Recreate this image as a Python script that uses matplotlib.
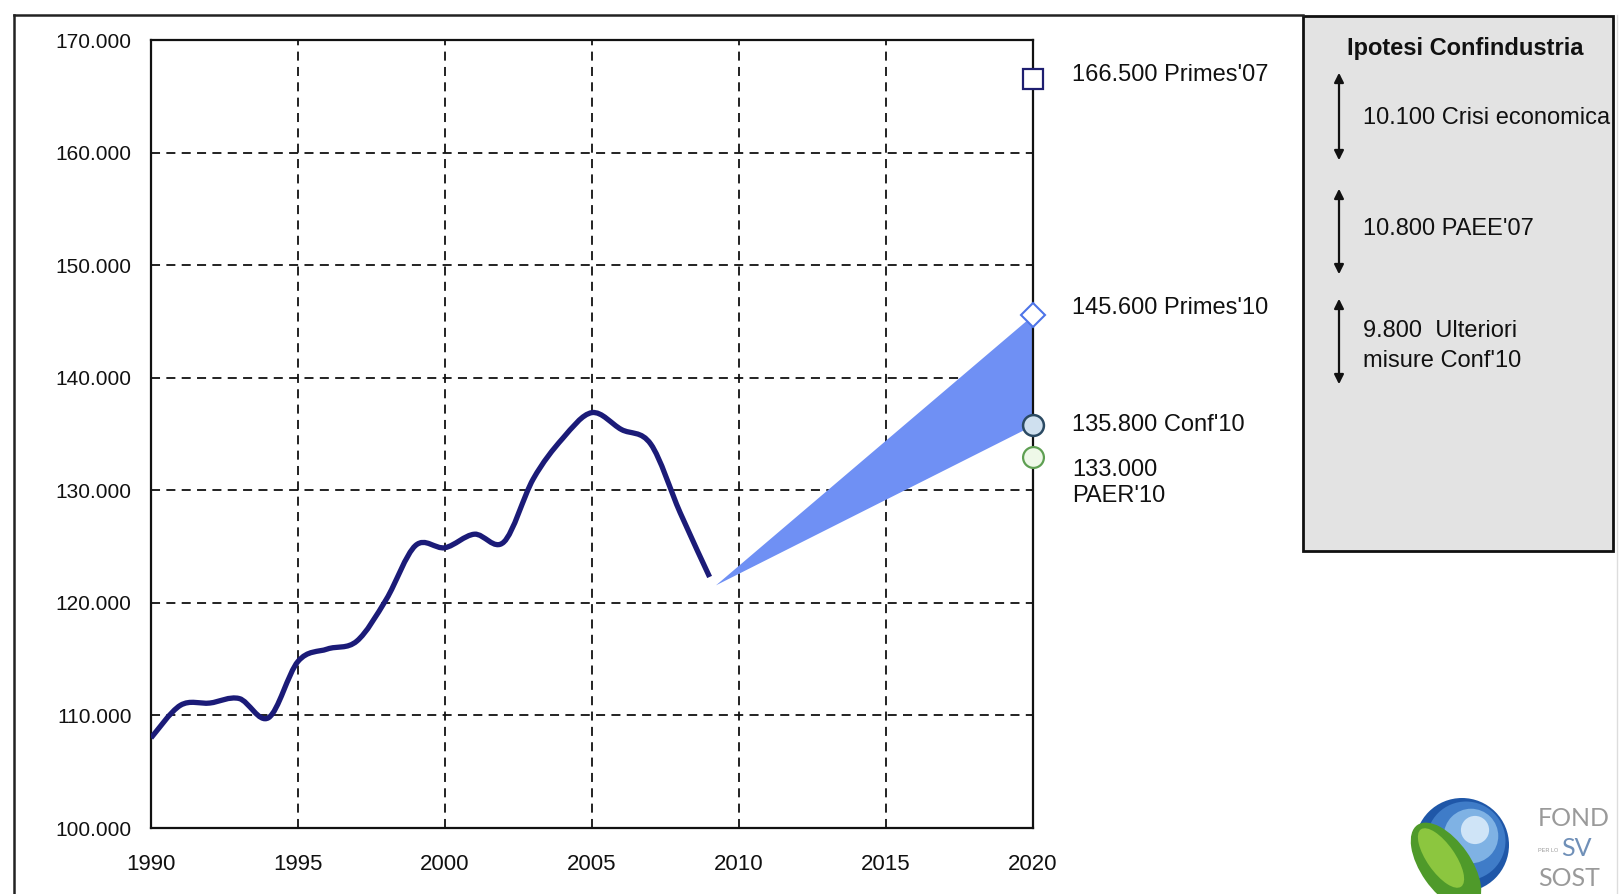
import matplotlib
matplotlib.use("Agg")
import matplotlib.pyplot as plt
from matplotlib.path import Path
from matplotlib.patches import PathPatch, Rectangle, Ellipse, Circle, FancyArrowPatch
from matplotlib.lines import Line2D
from matplotlib.ticker import FuncFormatter, FixedLocator

# ---- data ---------------------------------------------------------------
years = [1990, 1991, 1992, 1993, 1994, 1995, 1996, 1997, 1998, 1999,
         2000, 2001, 2002, 2003, 2004, 2005, 2006, 2007, 2008, 2009]
consumption = [108000, 110900, 111100, 111500, 109800, 114800, 115900, 116600,
               120300, 125100, 124900, 126100, 125400, 131000, 134600, 136900,
               135400, 134100, 128000, 122300]

# projection band towards 2020
band_years = [2009.2, 2020]
band_low = [121600, 135800]
band_high = [121600, 145600]

# 2020 scenarios
scenario_names = ["Primes'07", "Primes'10", "Conf'10", "PAER'10"]
scenario_values = [166500, 145600, 135800, 133000]
scenario_sep = [" ", " ", " ", "\n"]

# Confindustria hypotheses (gaps between scenarios)
gap_values = [10100, 10800, 9800]
gap_names = ["Crisi economica", "PAEE'07", "Ulteriori\nmisure Conf'10"]
gap_sep = [" ", " ", "  "]

x_ticks = [1990, 1995, 2000, 2005, 2010, 2015, 2020]
y_ticks = [100000, 110000, 120000, 130000, 140000, 150000, 160000, 170000]

# ---- figure -------------------------------------------------------------
W, H = 1619, 894
plt.rcParams["font.family"] = ["Liberation Sans", "DejaVu Sans"]
fig = plt.figure(figsize=(W / 100, H / 100), dpi=100, facecolor="white")


def fx(px):
    return px / W


def fy(py):
    return 1 - py / H


def it(v):
    return f"{int(round(v)):,}".replace(",", ".")


# page frame (left and top edges)
fig.add_artist(Line2D([fx(14), fx(14)], [fy(15), fy(900)], color="#222222", lw=1.8))
fig.add_artist(Line2D([fx(14), fx(1303)], [fy(15), fy(15)], color="#222222", lw=1.8))
fig.add_artist(Line2D([fx(1617), fx(1617)], [fy(15), fy(900)], color="#dddddd", lw=1.0))

ax = fig.add_axes([fx(151), fy(828), fx(1033 - 151), (828 - 40) / H])
ax.set_xlim(1990, 2020)
ax.set_ylim(100000, 170000)
ax.xaxis.set_major_locator(FixedLocator(x_ticks))
ax.yaxis.set_major_locator(FixedLocator(y_ticks))
ax.yaxis.set_major_formatter(FuncFormatter(lambda v, p: it(v)))
ax.tick_params(axis="both", length=0, colors="#111111")
ax.tick_params(axis="y", labelsize=15, pad=14)
ax.tick_params(axis="x", labelsize=16, pad=19)
for sp in ax.spines.values():
    sp.set_linewidth(1.6)
    sp.set_color("#111111")

# dashed grid
for x in x_ticks[1:-1]:
    ax.axvline(x, color="#111111", lw=1.3, ls=(0, (5, 3.5)), zorder=1)
for y in y_ticks[1:-1]:
    ax.axhline(y, color="#111111", lw=1.3, ls=(0, (5, 3.5)), zorder=1)

# projection band
ax.fill_between(band_years, band_low, band_high, color="#6f90f4",
                lw=0, zorder=2)

# smoothed historical line (Catmull-Rom rendered as cubic Bezier)
pts = list(zip(years, consumption))
verts = [pts[0]]
codes = [Path.MOVETO]
n = len(pts)
for i in range(n - 1):
    p0 = pts[max(i - 1, 0)]
    p1 = pts[i]
    p2 = pts[i + 1]
    p3 = pts[min(i + 2, n - 1)]
    c1 = (p1[0] + (p2[0] - p0[0]) / 6, p1[1] + (p2[1] - p0[1]) / 6)
    c2 = (p2[0] - (p3[0] - p1[0]) / 6, p2[1] - (p3[1] - p1[1]) / 6)
    verts += [c1, c2, p2]
    codes += [Path.CURVE4] * 3
ax.add_patch(PathPatch(Path(verts, codes), fill=False, edgecolor="#1b1b78",
                       lw=3.8, capstyle="butt", joinstyle="round", zorder=4))

# scenario markers at 2020
styles = [
    dict(marker="s", ms=15, mfc="white", mec="#1e1e70", mew=1.6),
    dict(marker="D", ms=12, mfc="white", mec="#4d74e8", mew=1.5),
    dict(marker="o", ms=15, mfc="#cfe0ef", mec="#2b4a63", mew=1.8),
    dict(marker="o", ms=15, mfc="#eef8e8", mec="#5e9f52", mew=1.6),
]
label_dy = [3, 5, 0, -19]
for val, name, sep, st, dy in zip(scenario_values, scenario_names, scenario_sep,
                                  styles, label_dy):
    ax.plot([2020], [val], ls="none", clip_on=False, zorder=6, **st)
    ax.annotate(f"{it(val)}{sep}{name}", xy=(2020, val), xytext=(28, dy),
                textcoords="offset points", ha="left", va="center",
                fontsize=17, color="#111111", linespacing=1.2,
                annotation_clip=False)

# hypotheses box
box = Rectangle((fx(1303), fy(551)), fx(1613 - 1303), (551 - 16) / H,
                transform=fig.transFigure, facecolor="#e3e3e3",
                edgecolor="#111111", lw=2.0)
fig.add_artist(box)
fig.text(fx(1347), fy(49), "Ipotesi Confindustria", fontsize=17,
         fontweight="bold", ha="left", va="center", color="#111111")
arrow_spans = [(70, 163), (186, 277), (296, 387)]
text_centres = [118, 229, 346]
for (y0, y1), yc, v, name, sep in zip(arrow_spans, text_centres, gap_values,
                                      gap_names, gap_sep):
    fig.add_artist(FancyArrowPatch((fx(1339), fy(y0)), (fx(1339), fy(y1)),
                                   transform=fig.transFigure,
                                   arrowstyle="<|-|>,head_length=0.4,head_width=0.2",
                                   mutation_scale=14, color="#111111", lw=1.6))
    t = fig.text(fx(1363), fy(yc), f"{it(v)}{sep}{name}",
                 fontsize=17, ha="left", va="center", color="#111111",
                 linespacing=1.45)
    t.set_clip_path(box)

# logo
lax = fig.add_axes([fx(1400), 0, fx(W - 1400), 130 / H])
lax.set_xlim(1400, W)
lax.set_ylim(H, H - 130)
lax.set_axis_off()
gcx, gcy, gr = 1462, 845, 47
lax.add_patch(Circle((gcx, gcy), gr, color="#1f57a8", lw=0))
lax.add_patch(Circle((gcx + 4, gcy - 4), gr * 0.84, color="#3f7cc8", lw=0))
lax.add_patch(Circle((gcx + 9, gcy - 9), gr * 0.58, color="#7fb2e4", lw=0))
lax.add_patch(Circle((gcx + 13, gcy - 15), gr * 0.3, color="#cfe4f7", lw=0))
lax.add_patch(Ellipse((1446, 866), 100, 50, angle=55, color="#4f9a2a", lw=0))
lax.add_patch(Ellipse((1441, 858), 70, 28, angle=55, color="#8cc63f", lw=0))
logo_font = dict(family=["Lato", "DejaVu Sans"], fontsize=18,
                 ha="left", va="center")
lax.text(1538, 819, "FOND", color="#9a9a9a", **logo_font)
lax.text(1538, 851, "PER LO", fontsize=4, color="#9a9a9a", ha="left",
         va="center")
lax.text(1561, 848, "SV", color="#7090b8", **logo_font)
lax.text(1538, 878, "SOST", color="#9a9a9a", **logo_font)

fig.savefig("out.png", dpi=100, facecolor="white")
